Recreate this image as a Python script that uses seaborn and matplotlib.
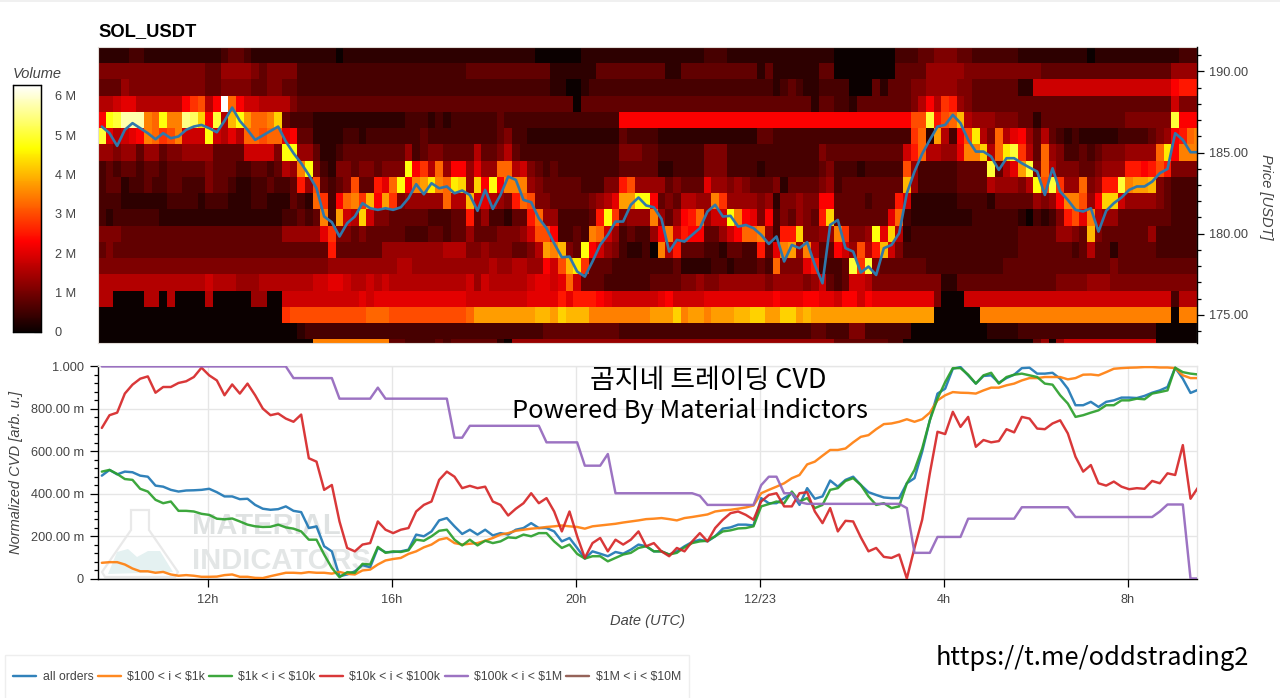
import numpy as np
import pandas as pd
import matplotlib
matplotlib.use("Agg")
import matplotlib.pyplot as plt
from matplotlib.patches import Polygon, Rectangle
from matplotlib.ticker import FixedLocator, MultipleLocator
import seaborn as sns

# ---- Volume heat map: one string per price row, 12 columns per block, 10-minute columns.
# Each character is a volume level; level_volumes gives its estimated volume in millions.
LEVELS = "0123456789abcdefghijklmnop"
level_volumes = [0, 0.33, 0.58, 0.83, 1.08, 1.33, 1.58, 1.83, 2.05, 2.27, 2.5, 2.75, 3, 3.25, 3.5, 3.75, 4, 4.25, 4.5, 4.75, 5, 5.25, 5.5, 5.75, 6, 6.25]
row_191 = "111122111111 111123321111 111111101111 111111111111 111111111000 000111111111 111111122211 111111111111 000000002223 344433222222 111111111011 111111111222"
row_190 = "444444444444 443355554344 442222222222 222222222222 333333333331 111113333333 331133333333 331311111133 000000003333 555554444444 444333333333 333333335555"
row_189 = "333544444444 443344443344 332222222222 222222222222 222222222221 100122222222 222222222222 222212321122 220003133344 555544333333 117777777777 777777779aaa"
row_188 = "667886666669 bc69pd977666 643333333333 333333333333 333333333333 330333333333 333333333333 333333333133 221333333346 96ba54333333 333333333333 333333337444"
row_187 = "9jknnnedjeem lh9k6gjfddeh 322211111111 111122212122 222232222222 222222229999 999999999999 999999999999 9999999999cc kacdg6555444 331333333333 33444444k999"
row_186 = "k86789edbce7 77j7686ddcdd 893311112212 222222322222 222234221111 111111113222 211111111111 113322222222 2222222222bd 1f629ci64d68 953632121111 122223459ade"
row_185 = "554553553445 555333377774 jj5531123333 333352344333 363346322222 222222224443 322222244422 222222222243 3333333337ad 66558eeh6dik b63d54223234 445555di9eee"
row_184 = "232332332333 334333223323 65ej42144344 3444j9b6d599 5855dd674323 222222223333 311222244422 221222222234 222122222c52 22223333k368 fk4d64443345 55aa9aca4444"
row_183 = "233122322332 224332112232 23a5c3234c33 a8dj9efiedih 5h9j9eee5433 33322244ac55 553433385545 433341333345 233333333g52 222233336555 46jckb55d45a akeffg432222"
row_182 = "222111111222 212221112211 1321db29debg 9fb455555d66 g78654adc443 33334568ffjj 93436655eb55 554514454499 33332333a711 111122221333 335459eec59h h75555432222"
row_181 = "212222221111 111111111111 22323e2f76h7 443333322233 a3522133ad55 22223ajb4555 e5359ad577je 9849243543ah 33333338d211 111111222222 102124ac8e65 533333332222"
row_180 = "444333333333 333333333333 555558b44343 333322233233 533344457cc9 2232ed752322 59e7a9933579 dde52aah4455 eb445j8h6122 222222222222 333335543g43 333335222222"
row_179 = "343333333333 333333333333 333333a33333 355555555666 4454443346fe g43j97542112 0e6a33322133 22a38ef5e633 975c6ag74222 222222222222 333333323633 133333222222"
row_178 = "444444444444 444444444444 444444555555 555665555555 555655665597 cgib33322222 222311112212 2232d4448a22 23kbk4333333 222222222233 333333333333 433333333333"
row_177 = "666666666666 667666555666 666677887667 676666666666 757666667887 8d7333222222 333344544555 555455554573 237764444444 441133333333 333334444555 444444444444"
row_176 = "660000660600 006000005500 777777777787 888888888888 777777778888 a8aaa9877777 789777788888 888898889988 799798888888 840007777777 777777777777 777777772666"
row_175 = "000000000000 000000000000 bccccccccccd ddcccccccccc dffffffffggf hgggeeeeeeee fffheffefffg ghhffhhfgfff ffffffffffff f000000eeeee eeeeeeeeeeee eeeeeeee0eee"
row_174 = "000000000000 000000000000 001222222222 222222222222 222222222233 333333332222 222222222222 222222222332 224422222200 000000001111 222222222222 222222000000"
row_173 = "000000000000 000000000000 0000eeeeeeee ee3322223233 333310555555 555555555555 555555555555 555555555555 333333322000 000000000000 003505777777 777777000000"
price_rows = [191, 190, 189, 188, 187, 186, 185, 184, 183, 182, 181, 180, 179, 178, 177, 176, 175, 174, 173]
row_strings = [row_191, row_190, row_189, row_188, row_187, row_186, row_185, row_184, row_183, row_182,
               row_181, row_180, row_179, row_178, row_177, row_176, row_175, row_174, row_173]

# ---- Price line (USDT), one value per column
price_a = [186.60,186.19,185.41,186.40,186.81,186.50,186.19,185.82,186.19,185.88,185.99,186.40,186.60,186.70,186.50,186.25,186.95,187.77,186.95,186.40,185.78,186.05,186.33,186.60]
price_b = [185.68,184.96,184.34,183.62,182.80,181.06,180.71,179.83,180.65,181.06,181.88,181.57,181.47,181.57,181.47,181.63,182.19,183.05,182.43,183.11,182.80,182.91,182.49,182.66]
price_c = [182.39,181.41,182.70,181.53,182.39,183.52,183.32,182.08,181.94,180.95,180.34,179.41,178.55,178.59,177.67,177.36,178.29,179.31,179.93,180.75,180.75,181.78,182.23,181.74]
price_d = [181.63,180.91,178.90,179.62,179.52,179.93,180.34,181.37,181.78,181.06,181.10,180.44,180.54,180.34,179.93,179.37,179.83,178.29,179.31,179.11,179.48,178.08,176.95,180.54]
price_e = [180.85,179.11,178.90,177.61,177.98,177.46,179.11,179.31,180.03,182.49,183.83,184.92,185.78,186.60,186.70,187.32,186.81,185.78,185.06,185.06,184.75,183.93,184.65,184.65]
price_f = [184.34,184.08,183.83,182.39,184.03,182.60,182.08,181.47,181.37,181.57,180.13,181.41,181.88,182.23,182.70,182.91,182.91,183.21,183.73,183.99,186.19,185.78,185.02,185.02]

# ---- Normalized CVD (milli-units), one value per column
all_orders = [485,512,491,504,501,485,480,438,433,418,410,415,416,418,423,407,387,387,374,376,347,329,324,327,340,319,313,238,246,152,128,11,19,34,63,53,144,124,125,128,136,207,199,222,
              274,285,246,210,230,207,230,203,214,207,230,238,261,238,238,222,175,191,144,94,128,117,105,125,117,136,160,152,128,128,113,128,152,172,183,175,199,235,241,254,254,250,379,355,355,379,402,347,426,376,387,462,433,465,480,441,
              407,394,382,379,379,449,473,598,746,872,895,989,997,958,919,955,958,923,945,961,992,994,966,966,970,942,895,817,817,833,809,833,840,853,853,851,861,876,887,903,994,942,875,890]
usd_100_1k = [74,77,77,66,47,34,34,27,31,19,13,16,13,8,8,9,16,19,8,8,3,2,11,19,27,27,25,30,27,27,23,31,22,19,38,42,66,85,92,97,116,128,147,160,
              183,191,167,160,164,167,178,191,207,214,225,230,235,238,243,246,250,246,243,235,246,250,254,258,264,269,274,280,282,285,280,274,285,290,296,302,316,321,324,329,335,344,402,418,433,449,473,488,538,551,579,606,606,613,642,668,
              676,704,728,731,739,751,739,751,782,840,864,879,876,875,872,887,900,900,911,919,934,945,945,950,950,950,939,945,961,962,958,973,989,992,994,995,997,997,995,995,992,958,945,945]
usd_1k_10k = [504,512,493,469,465,423,410,371,355,363,319,319,316,305,300,282,279,283,269,254,246,243,244,254,241,235,222,183,183,113,50,6,30,27,69,66,149,121,128,125,133,183,178,199,
              225,230,183,156,183,156,178,167,175,194,191,207,199,214,214,175,144,160,116,94,105,105,81,97,113,121,144,152,128,128,113,121,147,167,175,178,199,222,227,236,238,246,340,351,363,355,410,363,379,332,347,418,426,460,473,441,
              387,347,355,332,340,449,512,613,746,848,926,992,992,961,919,958,970,919,950,961,966,958,950,919,914,864,825,762,770,782,793,817,817,840,840,848,845,872,879,887,994,973,966,962]
usd_10k_100k = [710,770,782,872,914,942,953,876,903,903,922,930,950,994,958,934,864,915,872,919,864,801,770,778,754,739,773,567,551,418,441,269,144,128,160,167,269,230,214,230,238,316,347,363,
                465,504,480,426,437,426,433,363,347,297,329,355,402,355,379,316,222,316,199,97,167,191,128,183,160,183,222,152,167,128,105,144,128,175,214,175,238,277,308,316,300,277,363,394,402,340,340,402,407,316,261,332,222,272,269,194,
                128,144,102,97,113,0,144,277,496,692,681,786,715,762,621,653,642,648,704,689,762,754,707,704,731,746,684,574,504,535,449,438,457,433,421,426,423,460,449,496,488,629,376,430]
usd_100k_1m = [1000,1000,1000,1000,1000,1000,1000,1000,1000,1000,1000,1000,1000,1000,1000,1000,1000,1000,1000,1000,1000,1000,1000,1000,1000,945,945,945,945,945,945,848,848,848,848,848,900,848,848,848,848,848,848,848,
               848,848,664,664,720,720,720,720,720,720,720,720,720,720,642,642,642,642,642,532,532,532,587,402,402,402,402,402,402,402,402,402,402,402,390,347,347,347,347,347,347,347,440,480,480,402,402,360,352,352,352,352,352,352,352,352,
               352,352,352,352,352,332,121,121,121,196,196,196,196,282,282,282,282,282,282,282,336,336,336,336,336,336,336,290,290,290,290,290,290,290,290,290,290,290,316,349,349,349,0,0]
usd_1m_10m = []
series_names = ["all orders", "$100 < i < $1k", "$1k < i < $10k", "$10k < i < $100k", "$100k < i < $1M", "$1M < i < $10M"]
series_values = [all_orders, usd_100_1k, usd_1k_10k, usd_10k_100k, usd_100k_1m, usd_1m_10m]
series_colors = ["#1f77b4", "#ff7f0e", "#2ca02c", "#d62728", "#9467bd", "#8c564b"]

volume_ticks = [0, 1, 2, 3, 4, 5, 6]
volume_labels = ["0", "1 M", "2 M", "3 M", "4 M", "5 M", "6 M"]
price_ticks = [175, 180, 185, 190]
price_labels = ["175.00", "180.00", "185.00", "190.00"]
cvd_ticks = [0, 200, 400, 600, 800, 1000]
cvd_labels = ["0", "200.00 m", "400.00 m", "600.00 m", "800.00 m", "1.000"]
time_ticks = [12, 16, 20, 24, 28, 32]
time_labels = ["12h", "16h", "20h", "12/23", "4h", "8h"]

# ---- Figure
sns.set_theme(style="white")
plt.rcParams["font.family"] = ["Liberation Sans", "DejaVu Sans"]
plt.rcParams["text.parse_math"] = False
W, H = 1280, 698
TXT = "#444444"
KR = ["Noto Sans CJK KR", "DejaVu Sans"]
fig = plt.figure(figsize=(W / 100, H / 100), dpi=100, facecolor="white")

def box(l, t, r, b):
    return [l / W, 1 - b / H, (r - l) / W, (b - t) / H]

ax_h = fig.add_axes(box(98, 47, 1197, 343))
ax_c = fig.add_axes(box(12.5, 85, 41, 332))
ax_l = fig.add_axes(box(98, 366, 1197, 578.5))

# Heat map
for name, s in zip(price_rows, row_strings):
    assert len(s.replace(" ", "")) == 144, (name, len(s.replace(" ", "")))
matrix = pd.DataFrame(
    [[level_volumes[LEVELS.index(ch)] for ch in s.replace(" ", "")] for s in row_strings],
    index=price_rows,
)
sns.heatmap(matrix, ax=ax_h, cmap="hot", vmin=0, vmax=6.27, cbar_ax=ax_c,
            xticklabels=False, yticklabels=False, cbar_kws={"ticks": volume_ticks})
ncols_visible = 1099 / (46 / 6)
ax_h.set_xlim(0, ncols_visible)
ax_h.set_ylim(191.5 - 173.27, 0)
ax_h.set_xlabel("")
ax_h.set_ylabel("")
for sp in ax_h.spines.values():
    sp.set_visible(True)
    sp.set_color("#e2dcd8")
    sp.set_linewidth(0.8)

# Colour bar
ax_c.set_yticks(volume_ticks, volume_labels)
ax_c.yaxis.set_ticks_position("right")
ax_c.tick_params(axis="y", direction="in", length=5, width=0.8, color="#222222", labelsize=9.2,
                 labelcolor=TXT, pad=10, right=True, left=False)
for sp in ax_c.spines.values():
    sp.set_visible(True)
    sp.set_color("black")
    sp.set_linewidth(0.9)
cb = ax_h.collections[0].colorbar
cb.outline.set_edgecolor("black")
cb.outline.set_linewidth(0.9)
fig.text(13 / W, 1 - 74 / H, "Volume", style="italic", fontsize=10.5, color=TXT, ha="left", va="center")
fig.text(98 / W, 1 - 31.5 / H, "SOL_USDT", fontweight="bold", fontsize=13.2, color="black", ha="left", va="center")

# Price overlay
ax_p = ax_h.twinx()
price = price_a + price_b + price_c + price_d + price_e + price_f
col_pos = np.arange(len(price)) + 0.5
sns.lineplot(x=col_pos, y=price, ax=ax_p, color="#2f78ab", linewidth=1.9, estimator=None, sort=False)
ax_p.set_xlim(0, ncols_visible)
ax_p.set_ylim(173.27, 191.5)
ax_p.yaxis.set_major_locator(FixedLocator(price_ticks))
ax_p.set_yticklabels(price_labels)
ax_p.yaxis.set_minor_locator(MultipleLocator(1))
ax_p.yaxis.tick_right()
ax_p.tick_params(axis="y", which="major", length=5, width=0.9, color="black", labelsize=9.2, labelcolor=TXT, pad=4, right=True)
ax_p.tick_params(axis="y", which="minor", length=3, width=0.9, color="black", right=True)
ax_p.grid(False)
for k, sp in ax_p.spines.items():
    sp.set_visible(k == "right")
ax_p.spines["right"].set_color("black")
ax_p.spines["right"].set_linewidth(1.0)
ax_p.set_ylabel("Price [USDT]", rotation=270, style="italic", fontsize=10.5, color=TXT, va="center")
ax_p.yaxis.set_label_coords((1266 - 98) / 1099, (343 - 197) / 296)

# CVD panel
hours = 9.609 + (np.arange(144) + 0.5) / 6
# watermark first, under the lines
def frac(pts):
    return [((x - 98) / 1099, (578.5 - y) / 212.5) for x, y in pts]
ax_l.add_patch(Polygon(frac([(131, 510), (149, 510), (149, 530), (178, 572), (175, 577), (105, 577), (102, 572), (131, 530)]),
                       closed=True, transform=ax_l.transAxes, fc="white", ec="#e9e9e9", lw=1.6, zorder=0.5))
ax_l.add_patch(Polygon(frac([(108, 574), (117, 552), (128, 549), (137, 557), (148, 551), (160, 551), (173, 572)]),
                       closed=True, transform=ax_l.transAxes, fc="#e4f1f1", ec="none", zorder=0.6))
ax_l.text((192 - 98) / 1099, (578.5 - 526) / 212.5, "MATERIAL", transform=ax_l.transAxes, fontweight="bold",
          fontsize=21, color="#dfe2e2", va="center", ha="left", zorder=0.7)
ax_l.text((192 - 98) / 1099, (578.5 - 561) / 212.5, "INDICATORS", transform=ax_l.transAxes, fontweight="bold",
          fontsize=21, color="#e3e6e6", va="center", ha="left", zorder=0.7)

for name, vals, color in zip(series_names, series_values, series_colors):
    if vals:
        sns.lineplot(x=hours[:len(vals)], y=vals, ax=ax_l, color=color, linewidth=1.75, alpha=0.92,
                     label=name, estimator=None, sort=False, legend=False, zorder=3)
    else:
        ax_l.plot([], [], color=color, linewidth=1.75, alpha=0.92, label=name)
ax_l.set_xlim(9.609, 9.609 + 1099 / 46)
ax_l.set_ylim(0, 1002)
ax_l.set_xticks(time_ticks, time_labels)
ax_l.set_yticks(cvd_ticks, cvd_labels)
ax_l.yaxis.set_minor_locator(MultipleLocator(40))
ax_l.grid(True, which="major", color="#e6e6e6", linewidth=1.0)
ax_l.set_axisbelow(True)
ax_l.tick_params(axis="y", which="major", left=True, length=6, width=0.9, color="black", labelsize=9.2, labelcolor=TXT, pad=4)
ax_l.tick_params(axis="y", which="minor", left=True, length=3, width=0.9, color="black")
ax_l.tick_params(axis="x", which="major", bottom=True, length=6, width=0.9, color="black", labelsize=9.2, labelcolor=TXT, pad=5)
for k, sp in ax_l.spines.items():
    sp.set_color("black" if k in ("left", "bottom") else "#e6e6e6")
    sp.set_linewidth(1.0)
ax_l.set_xlabel("Date (UTC)", style="italic", fontsize=10.5, color=TXT, va="center")
ax_l.xaxis.set_label_coords((648 - 98) / 1099, -(621 - 578.5) / 212.5)
ax_l.set_ylabel("Normalized CVD [arb. u.]", style="italic", fontsize=10.5, color=TXT, va="center")
ax_l.yaxis.set_label_coords((16 - 98) / 1099, (578.5 - 472) / 212.5)

# Overlay captions
fig.text(708 / W, 1 - 380 / H, "곰지네 트레이딩 CVD", family=KR, fontsize=19.4, fontweight="medium", color="black", ha="center", va="center", zorder=10)
fig.text(690.5 / W, 1 - 411 / H, "Powered By Material Indictors", family=KR, fontsize=18.3, fontweight="medium", color="black", ha="center", va="center", zorder=10)
fig.text(1092 / W, 1 - 658 / H, "https://t.me/oddstrading2", family=KR, fontsize=18.3, fontweight="medium", color="black", ha="center", va="center", zorder=10)

# Strip along the top edge and legend box
fig.add_artist(Rectangle((0, 1 - 2 / H), 1, 2 / H, transform=fig.transFigure, fc="#f0f0f0", ec="none"))
fig.add_artist(Rectangle((5 / W, -2 / H), 684 / W, 45 / H, transform=fig.transFigure,
                         fc="white", ec="#eeeeee", lw=1.0, zorder=1))
handles, labels = ax_l.get_legend_handles_labels()
leg = fig.legend(handles, labels, loc="center", bbox_to_anchor=(347 / W, 1 - 677 / H), ncol=6, frameon=False,
                 fontsize=8.8, handlelength=1.9, handletextpad=0.5, columnspacing=0.35, labelcolor=TXT, borderpad=0)
leg.set_zorder(5)

fig.savefig("out.png", dpi=100, facecolor="white")
